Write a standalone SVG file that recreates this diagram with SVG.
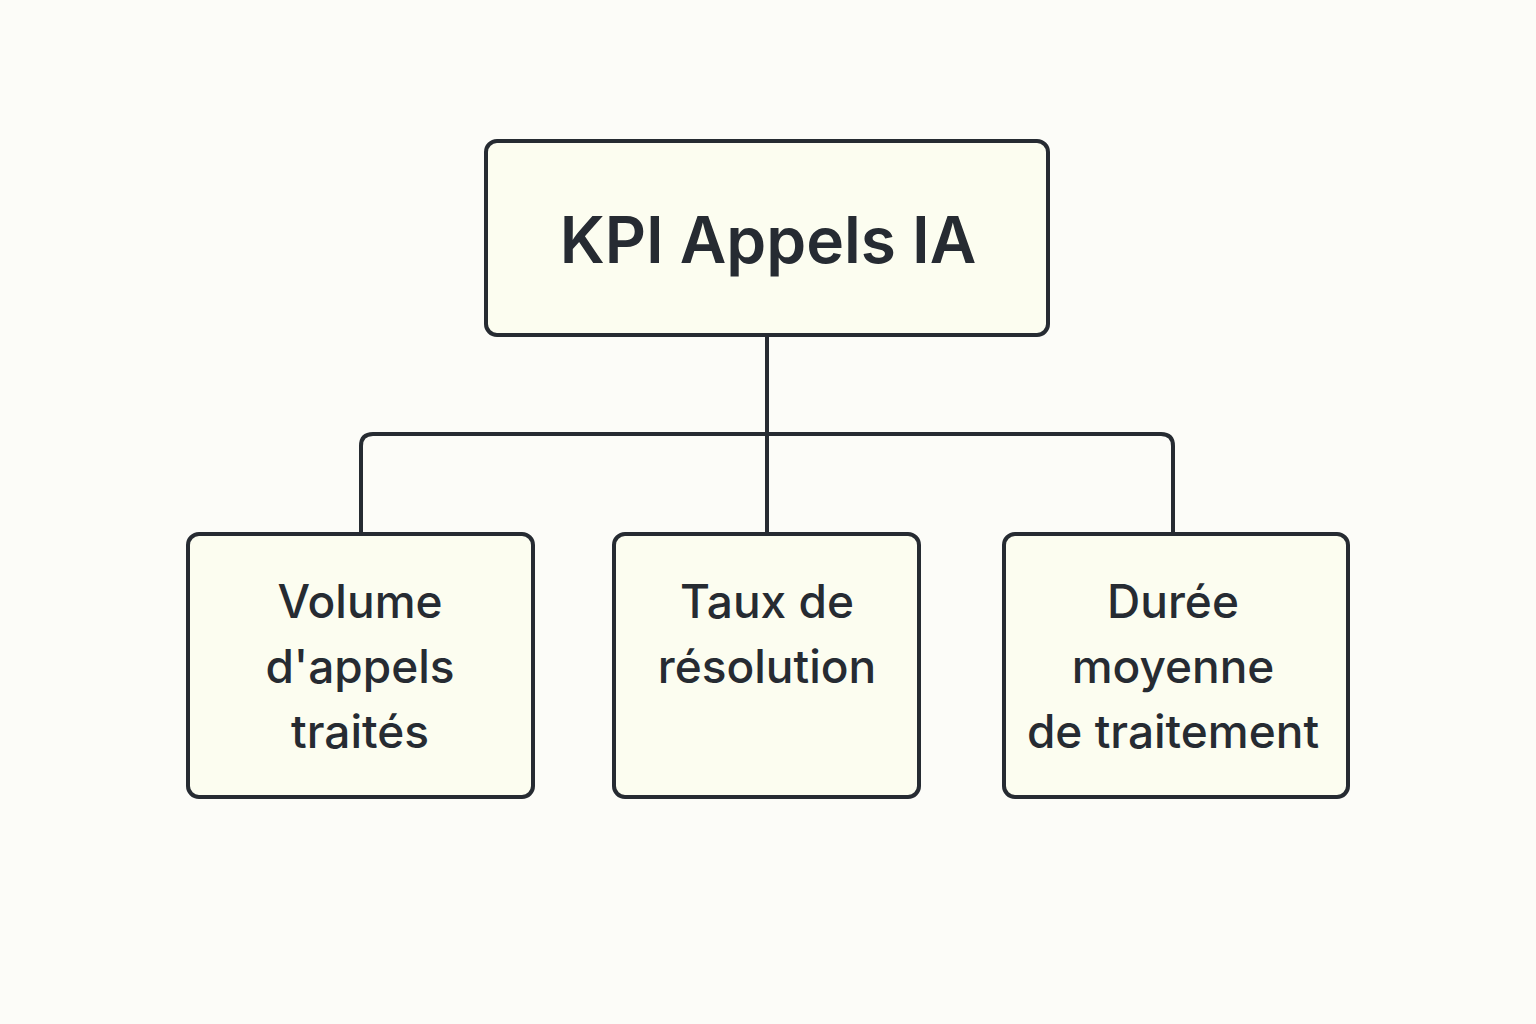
<svg xmlns="http://www.w3.org/2000/svg" width="1536" height="1024" viewBox="0 0 1536 1024">
<style>
.box{fill:#fcfdf0;stroke:#262b32;stroke-width:4}
.t{font-family:Inter,"Liberation Sans",sans-serif;fill:#262b32;text-anchor:middle}
.big{font-size:64px;font-weight:600}
.sm{font-size:46px;font-weight:500}
.c{fill:none;stroke:#262b32;stroke-width:4;stroke-linejoin:round}
</style>
<rect width="1536" height="1024" fill="#fcfcf8"/>
<g id="connectors">
<path class="c" d="M767 335V533"/>
<path class="c" d="M361 533V446Q361 434 373 434H1161Q1173 434 1173 446V533"/>
</g>
<g id="root"><rect class="box" x="486" y="141" width="562" height="194" rx="11"/><text class="t big" x="768" y="263">KPI Appels IA</text></g>
<g id="n1"><rect class="box" x="188" y="534" width="345" height="263" rx="11"/><text class="t sm" x="360" y="618">Volume</text><text class="t sm" x="360" y="683">d'appels</text><text class="t sm" x="360" y="748">traités</text></g>
<g id="n2"><rect class="box" x="614" y="534" width="305" height="263" rx="11"/><text class="t sm" x="767" y="618">Taux de</text><text class="t sm" x="767" y="683">résolution</text></g>
<g id="n3"><rect class="box" x="1004" y="534" width="344" height="263" rx="11"/><text class="t sm" x="1173" y="618">Durée</text><text class="t sm" x="1173" y="683">moyenne</text><text class="t sm" x="1173" y="748">de traitement</text></g>
</svg>
